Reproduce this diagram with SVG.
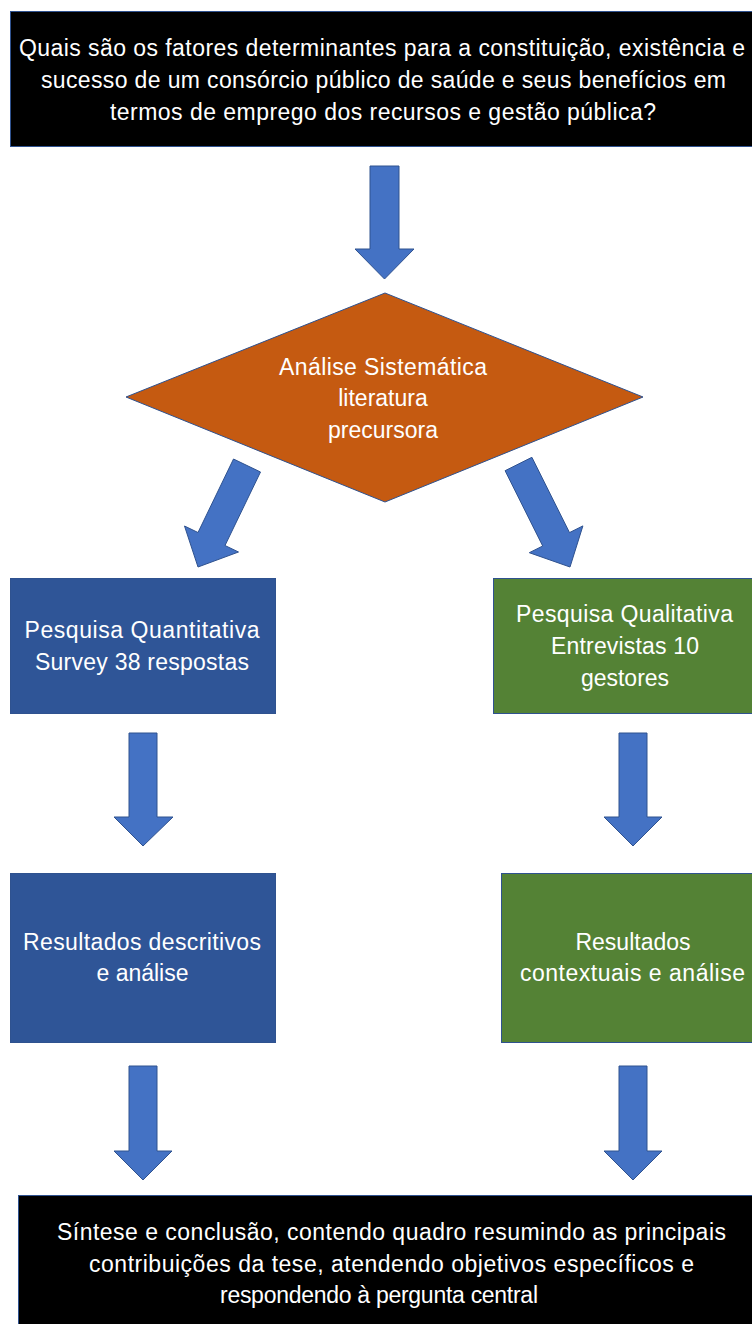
<svg xmlns="http://www.w3.org/2000/svg" width="752" height="1324" viewBox="0 0 752 1324">
<style>
.lbl{font-family:"Liberation Sans",Arial,sans-serif;font-size:23px;fill:#fff;text-anchor:middle}
.arr{fill:#4472C4;stroke:#2F528F;stroke-width:1}
.box{stroke:#2F528F;stroke-width:1}
</style>
<rect width="752" height="1324" fill="#fff"/>
<g id="connectors">
<polygon class="arr" points="370,166 399,166 399,249 414,249 384.5,279 355,249 370,249"/>
<polygon class="arr" points="233.5,459 260.5,472 225,545.5 238.5,552 198,567 184.5,526 198,532.5"/>
<polygon class="arr" points="505.1,470.7 531.9,457.3 569.5,532.6 582.9,525.9 570,567 529.3,552.7 542.7,546"/>
<polygon class="arr" points="129,733 157,733 157,817 173,817 143,846 114,817 129,817"/>
<polygon class="arr" points="619,733 647,733 647,817 662,817 633,846 604,817 619,817"/>
<polygon class="arr" points="129,1066 157,1066 157,1151 172,1151 143,1180 114,1151 129,1151"/>
<polygon class="arr" points="619,1066 647,1066 647,1151 662,1151 633,1180 604,1151 619,1151"/>
</g>
<g id="question">
<rect class="box" x="10.5" y="11.5" width="745" height="135" fill="#000"/>
<text class="lbl" x="382" y="56" textLength="726">Quais são os fatores determinantes para a constituição, existência e</text>
<text class="lbl" x="383.5" y="88" textLength="685">sucesso de um consórcio público de saúde e seus benefícios em</text>
<text class="lbl" x="383" y="120" textLength="546">termos de emprego dos recursos e gestão pública?</text>
</g>
<g id="analise">
<polygon points="385,293 643,397 385,502 126,397" fill="#C55A11" stroke="#2F528F" stroke-width="1"/>
<text class="lbl" x="383" y="375" textLength="208">Análise Sistemática</text>
<text class="lbl" x="383" y="406">literatura</text>
<text class="lbl" x="383" y="438">precursora</text>
</g>
<g id="quantitativa">
<rect class="box" x="10.5" y="578.5" width="265" height="135" fill="#2F5597"/>
<text class="lbl" x="142" y="638" textLength="235">Pesquisa Quantitativa</text>
<text class="lbl" x="142" y="670" textLength="214">Survey 38 respostas</text>
</g>
<g id="qualitativa">
<rect class="box" x="493.5" y="578.5" width="262" height="135" fill="#548235"/>
<text class="lbl" x="624.5" y="622" textLength="217">Pesquisa Qualitativa</text>
<text class="lbl" x="625" y="654" textLength="148">Entrevistas 10</text>
<text class="lbl" x="625" y="686">gestores</text>
</g>
<g id="descritivos">
<rect class="box" x="10.5" y="873.5" width="265" height="169" fill="#2F5597"/>
<text class="lbl" x="142" y="950" textLength="238">Resultados descritivos</text>
<text class="lbl" x="142.5" y="981">e análise</text>
</g>
<g id="contextuais">
<rect class="box" x="501.5" y="873.5" width="254" height="169" fill="#548235"/>
<text class="lbl" x="633" y="950">Resultados</text>
<text class="lbl" x="632.5" y="981" textLength="225">contextuais e análise</text>
</g>
<g id="sintese">
<rect class="box" x="18.5" y="1195.5" width="737" height="132" fill="#000"/>
<text class="lbl" x="391.5" y="1240" textLength="669">Síntese e conclusão, contendo quadro resumindo as principais</text>
<text class="lbl" x="391.5" y="1272" textLength="605">contribuições da tese, atendendo objetivos específicos e</text>
<text class="lbl" x="379" y="1303" textLength="318">respondendo à pergunta central</text>
</g>
</svg>
